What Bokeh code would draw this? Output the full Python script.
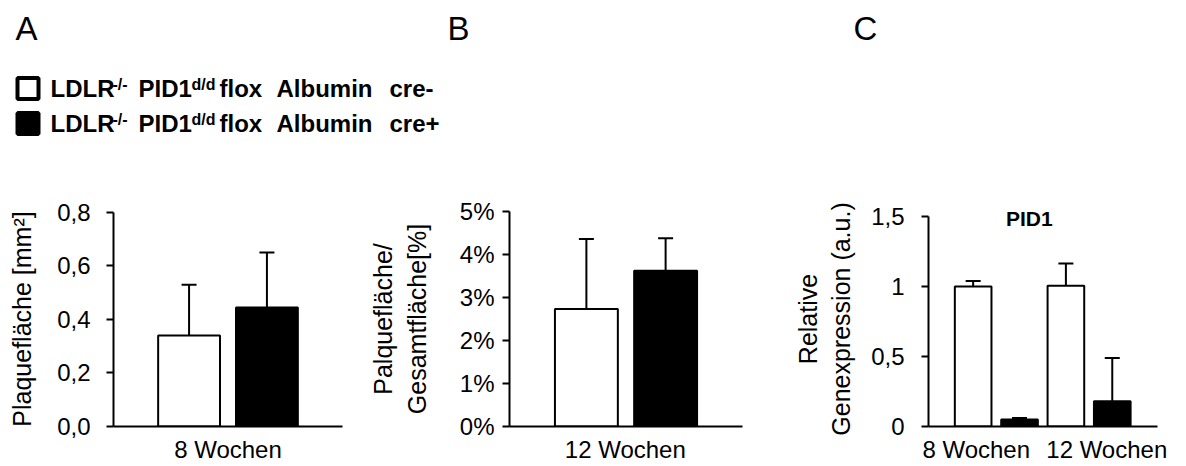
from bokeh.plotting import figure
from bokeh.models import Range1d, FixedTicker, Whisker, TeeHead, ColumnDataSource, Label
from bokeh.layouts import column, row
from bokeh.embed import file_html
from bokeh.resources import INLINE
from bokeh.core.properties import value

FONT = "Liberation Sans"

# ---------------- data ----------------
legend_tail = ["cre-", "cre+"]

a_categories = ["8 Wochen"]
a_cre_minus = [0.34]
a_cre_minus_err = [0.19]
a_cre_plus = [0.445]
a_cre_plus_err = [0.205]
a_yticks = [0, 0.2, 0.4, 0.6, 0.8]
a_yticklabels = ["0,0", "0,2", "0,4", "0,6", "0,8"]
a_ylabel = "Plaquefläche [mm²]"

b_categories = ["12 Wochen"]
b_cre_minus = [2.73]
b_cre_minus_err = [1.63]
b_cre_plus = [3.62]
b_cre_plus_err = [0.76]
b_yticks = [0, 1, 2, 3, 4, 5]
b_yticklabels = ["0%", "1%", "2%", "3%", "4%", "5%"]
b_ylabel = "Palquefläche/\nGesamtfläche[%]"

c_categories = ["8 Wochen", "12 Wochen"]
c_cre_minus = [1.00, 1.005]
c_cre_minus_err = [0.04, 0.16]
c_cre_plus = [0.05, 0.18]
c_cre_plus_err = [0.01, 0.31]
c_yticks = [0, 0.5, 1, 1.5]
c_yticklabels = ["0", "0,5", "1", "1,5"]
c_ylabel = "Relative\nGenexpression (a.u.)"
c_title = "PID1"

panel_letters = ["A", "B", "C"]

TOP, BOTTOM = 21, 40  # shared frame borders (row aligns frames)


def make_panel(width, borders, x_end, ymax, ytop, yticks, yticklabels, ylabel,
               minus_x, plus_x, bar_w, minus, minus_err, plus, plus_err,
               xtick_pos, xticklabels, tick_standoff, label_standoff, xlabel_standoff):
    bl, br = borders
    p = figure(width=width, height=276, x_range=Range1d(0, x_end), y_range=Range1d(0, ytop),
               output_backend="svg", toolbar_location=None, title=None,
               min_border_left=bl, min_border_right=br, min_border_top=TOP, min_border_bottom=BOTTOM)
    p.outline_line_color = None
    p.grid.visible = False
    p.background_fill_color = "white"
    p.border_fill_color = "white"

    p.vbar(x=minus_x, top=minus, bottom=0, width=bar_w, fill_color="white",
           line_color="black", line_width=2)
    p.vbar(x=plus_x, top=plus, bottom=0, width=bar_w, fill_color="black",
           line_color="black", line_width=2)

    xs = list(minus_x) + list(plus_x)
    lows = list(minus) + list(plus)
    highs = [v + e for v, e in zip(minus, minus_err)] + [v + e for v, e in zip(plus, plus_err)]
    src = ColumnDataSource(dict(base=xs, lower=lows, upper=highs))
    w = Whisker(source=src, base="base", lower="lower", upper="upper", dimension="height",
                line_color="black", line_width=2, lower_head=None,
                upper_head=TeeHead(size=15, line_width=2, line_color="black"))
    p.add_layout(w)

    ya = p.yaxis[0]
    ya.bounds = (0, ymax)
    ya.ticker = FixedTicker(ticks=yticks)
    ya.major_label_overrides = dict(zip(yticks, yticklabels))
    ya.minor_tick_line_color = None
    ya.major_tick_out = 7
    ya.major_tick_in = 0
    ya.major_tick_line_width = 2
    ya.major_tick_line_color = "black"
    ya.axis_line_width = 2
    ya.axis_line_color = "black"
    ya.major_label_text_font = FONT
    ya.major_label_text_font_size = "24px"
    ya.major_label_text_color = "black"
    ya.major_label_standoff = tick_standoff
    ya.axis_label = ylabel
    ya.axis_label_text_font = FONT
    ya.axis_label_text_font_size = "25px"
    ya.axis_label_text_font_style = "normal"
    ya.axis_label_text_color = "black"
    ya.axis_label_standoff = label_standoff

    xa = p.xaxis[0]
    xa.ticker = FixedTicker(ticks=xtick_pos)
    xa.major_label_overrides = dict(zip(xtick_pos, xticklabels))
    xa.minor_tick_line_color = None
    xa.major_tick_line_color = None
    xa.major_tick_out = 0
    xa.major_tick_in = 0
    xa.axis_line_width = 2
    xa.axis_line_color = "black"
    xa.major_label_text_font = FONT
    xa.major_label_text_font_size = "24px"
    xa.major_label_text_color = "black"
    xa.major_label_standoff = xlabel_standoff
    return p


# ---------- Panel A ----------
a_centers = [0.5 + i for i in range(len(a_categories))]
pa = make_panel(366, (113, 24), 1.0, 0.8, 0.8037, a_yticks, a_yticklabels, a_ylabel,
                [c - 0.17 for c in a_centers], [c + 0.17 for c in a_centers], 0.27,
                a_cre_minus, a_cre_minus_err, a_cre_plus, a_cre_plus_err,
                a_centers, a_categories, 16, 18, 9)

# ---------- Panel B ----------
b_centers = [0.5 + i for i in range(len(b_categories))]
pb = make_panel(424, (137, 48), 1.0, 5, 5, b_yticks, b_yticklabels, b_ylabel,
                [c - 0.17 for c in b_centers], [c + 0.17 for c in b_centers], 0.27,
                b_cre_minus, b_cre_minus_err, b_cre_plus, b_cre_plus_err,
                [0.497], b_categories, 8, 26, 9)

# ---------- Panel C ----------
c_centers = [0.5925 + 0.81 * i for i in range(len(c_categories))]
pc = make_panel(396, (136, 29), 2.0, 1.5, 1.536, c_yticks, c_yticklabels, c_ylabel,
                [c - 0.2025 for c in c_centers], [c + 0.2025 for c in c_centers], 0.32,
                c_cre_minus, c_cre_minus_err, c_cre_plus, c_cre_plus_err,
                [0.417, 1.557], c_categories, 17, 13, 9)
pc.add_layout(Label(x=0.88, y=1.486, text=c_title, text_align="center", text_baseline="middle",
                    text_font=FONT, text_font_size="21px", text_font_style="bold", text_color="black"))

# ---------- Header: panel letters + legend ----------
hdr = figure(width=1186, height=190, x_range=Range1d(0, 1186), y_range=Range1d(190, 0),
             output_backend="svg", toolbar_location=None, title=None,
             x_axis_type=None, y_axis_type=None,
             min_border_left=0, min_border_right=0, min_border_top=0, min_border_bottom=0)
hdr.outline_line_color = None
hdr.grid.visible = False

hdr.text(x=[15, 447, 853], y=[27.5, 27.5, 27.5], text=panel_letters,
         text_font=value(FONT), text_font_size="33px", text_color="black",
         text_align="left", text_baseline="middle")

row_y = [88, 123]
hdr.rect(x=[27.5, 27.5], y=row_y, width=21, height=21, fill_color=["white", "black"],
         line_color="black", line_width=4)
for i, tail in enumerate(legend_tail):
    mid = row_y[i] - 0.5
    hdr.text(x=[50, 138, 219, 276, 389], y=[mid] * 5,
             text=["LDLR", "PID1", "flox", "Albumin", tail],
             text_font=value(FONT), text_font_size="24px", text_font_style="bold",
             text_color="black", text_align="left", text_baseline="middle")
    hdr.text(x=[112, 191], y=[mid - 3.5, mid - 3.5], text=["-/-", "d/d"],
             text_font=value(FONT), text_font_size="16px", text_font_style="bold",
             text_color="black", text_align="left", text_baseline="middle")

layout = column(hdr, row(pa, pb, pc))
open("out.html", "w").write(file_html(layout, INLINE))
